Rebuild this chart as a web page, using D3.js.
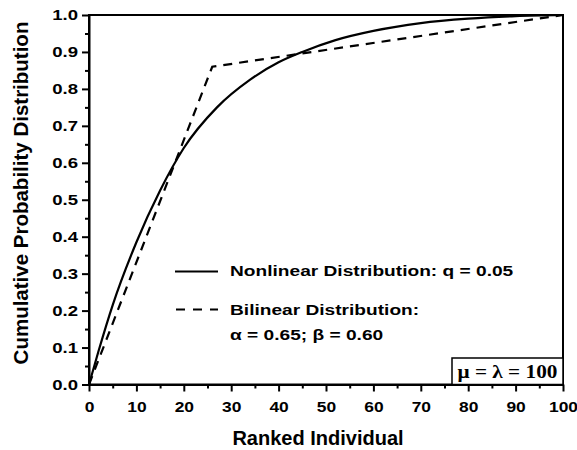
<!DOCTYPE html>
<html>
<head>
<meta charset="utf-8">
<script src="https://cdn.jsdelivr.net/npm/d3@7"></script>
<style>
  body { margin: 0; background: #fff; }
  svg { display: block; }
</style>
</head>
<body>
<svg id="chart" width="577" height="450"></svg>
<script>
// Chart data
const xTicks = [0, 10, 20, 30, 40, 50, 60, 70, 80, 90, 100];
const xMinor = [5, 15, 25, 35, 45, 55, 65, 75, 85, 95];
const yTicks = [0, 0.1, 0.2, 0.3, 0.4, 0.5, 0.6, 0.7, 0.8, 0.9, 1.0];
const yMinor = [0.05, 0.15, 0.25, 0.35, 0.45, 0.55, 0.65, 0.75, 0.85, 0.95];

// Nonlinear distribution (q = 0.05)
const nonlinearX = [0, 2, 5, 10, 15, 20, 27, 34, 40, 45, 52, 60, 70, 80, 90, 100];
const nonlinearY = [0, 0.09, 0.215, 0.385, 0.525, 0.64, 0.75, 0.825, 0.872, 0.9, 0.932, 0.957, 0.978, 0.99, 0.997, 1.0];

// Bilinear distribution (alpha = 0.65, beta = 0.60)
const bilinearX = [0, 26, 100];
const bilinearY = [0, 0.86, 1.0];

const legendLabels = ["Nonlinear Distribution: q = 0.05", "Bilinear Distribution:", "\u03b1 = 0.65; \u03b2 = 0.60"];
const boxLabel = "\u03bc = \u03bb = 100";

// Layout
const W = 577, H = 450;
const margin = {top: 15, right: 14, bottom: 65.5, left: 89};
const SX = 1.28;   // the scanned lettering is wider than Arial
const sans = "'Liberation Sans', Arial, sans-serif";

const svg = d3.select("#chart");

const x = d3.scaleLinear().domain([0, 100]).range([margin.left, W - margin.right]);
const y = d3.scaleLinear().domain([0, 1]).range([H - margin.bottom, margin.top]);

// put a text at (px, py) and stretch it sideways
function stretch(sel, px, py, sx) {
  sel.attr("x", 0).attr("y", 0)
    .attr("transform", `translate(${px},${py}) scale(${sx},1)`);
}

// -- Axes -- //
let xAxis = svg.append("g")
    .attr("transform", `translate(0,${y(0)})`)
    .call(d3.axisBottom(x).tickValues(xTicks).tickSize(7).tickSizeOuter(0)
      .tickPadding(10).tickFormat(d3.format("d")));
xAxis.selectAll("text").each(function() {
  let t = d3.select(this);
  let ty = +t.attr("y");
  t.attr("dy", "0.71em");
  stretch(t, 0, ty, 1.2);
});

svg.append("g")
    .attr("transform", `translate(0,${y(0)})`)
    .call(d3.axisBottom(x).tickValues(xMinor).tickSize(4).tickSizeOuter(0).tickFormat(""))
    .call(g => g.select(".domain").remove());

let yAxis = svg.append("g")
    .attr("transform", `translate(${x(0)},0)`)
    .call(d3.axisLeft(y).tickValues(yTicks).tickSize(7).tickSizeOuter(0)
      .tickPadding(4).tickFormat(d3.format(".1f")));
yAxis.selectAll("text").each(function() {
  let t = d3.select(this);
  stretch(t, -11, 0, SX);
});

svg.append("g")
    .attr("transform", `translate(${x(0)},0)`)
    .call(d3.axisLeft(y).tickValues(yMinor).tickSize(4).tickSizeOuter(0).tickFormat(""))
    .call(g => g.select(".domain").remove());

svg.selectAll(".tick line").attr("stroke", "#000").attr("stroke-width", 2);
svg.selectAll(".domain").attr("stroke-width", 2);
svg.selectAll(".tick text")
    .attr("font-family", sans)
    .attr("font-weight", "bold")
    .attr("font-size", 14.5)
    .attr("fill", "#000");

// Frame
svg.append("rect")
    .attr("x", x(0)).attr("y", y(1))
    .attr("width", x(100) - x(0)).attr("height", y(0) - y(1))
    .attr("fill", "none").attr("stroke", "#000").attr("stroke-width", 2);

// -- Lines -- //
const nonlinear = nonlinearX.map((d, i) => [d, nonlinearY[i]]);
const bilinear = bilinearX.map((d, i) => [d, bilinearY[i]]);

svg.append("path")
    .datum(bilinear)
    .attr("fill", "none")
    .attr("stroke", "#000")
    .attr("stroke-width", 2.2)
    .attr("stroke-dasharray", "9,7")
    .attr("d", d3.line().x(d => x(d[0])).y(d => y(d[1])));

svg.append("path")
    .datum(nonlinear)
    .attr("fill", "none")
    .attr("stroke", "#000")
    .attr("stroke-width", 2.2)
    .attr("d", d3.line().x(d => x(d[0])).y(d => y(d[1])).curve(d3.curveMonotoneX));

// -- Axis titles -- //
svg.append("text")
    .attr("transform", `translate(28,193) rotate(-90)`)
    .attr("text-anchor", "middle")
    .attr("font-family", sans)
    .attr("font-weight", "bold")
    .attr("font-size", 20.5)
    .text("Cumulative Probability Distribution");

svg.append("text")
    .attr("x", 318).attr("y", 445)
    .attr("text-anchor", "middle")
    .attr("font-family", sans)
    .attr("font-weight", "bold")
    .attr("font-size", 20)
    .text("Ranked Individual");

// -- Legend -- //
let legend = svg.append("g");
legend.append("line")
    .attr("x1", 175).attr("x2", 218).attr("y1", 271.5).attr("y2", 271.5)
    .attr("stroke", "#000").attr("stroke-width", 2);
legend.append("line")
    .attr("x1", 176).attr("x2", 218).attr("y1", 309.5).attr("y2", 309.5)
    .attr("stroke", "#000").attr("stroke-width", 2)
    .attr("stroke-dasharray", "9,8");

let legendY = [275.5, 314.5, 340];
legendLabels.forEach((label, i) => {
  let t = legend.append("text")
      .attr("font-family", sans)
      .attr("font-weight", "bold")
      .attr("font-size", 14.5)
      .text(label);
  stretch(t, 230, legendY[i], 1.32);
});

// Parameter box
svg.append("rect")
    .attr("x", 452).attr("y", 358)
    .attr("width", x(100) - 452).attr("height", y(0) - 358)
    .attr("fill", "#fff").attr("stroke", "#000").attr("stroke-width", 1.5);
let boxText = svg.append("text")
    .attr("text-anchor", "middle")
    .attr("font-family", "'Liberation Serif', 'Times New Roman', serif")
    .attr("font-weight", "bold")
    .attr("font-size", 19)
    .text(boxLabel);
stretch(boxText, (452 + x(100)) / 2, 378, 1.12);
</script>
</body>
</html>
